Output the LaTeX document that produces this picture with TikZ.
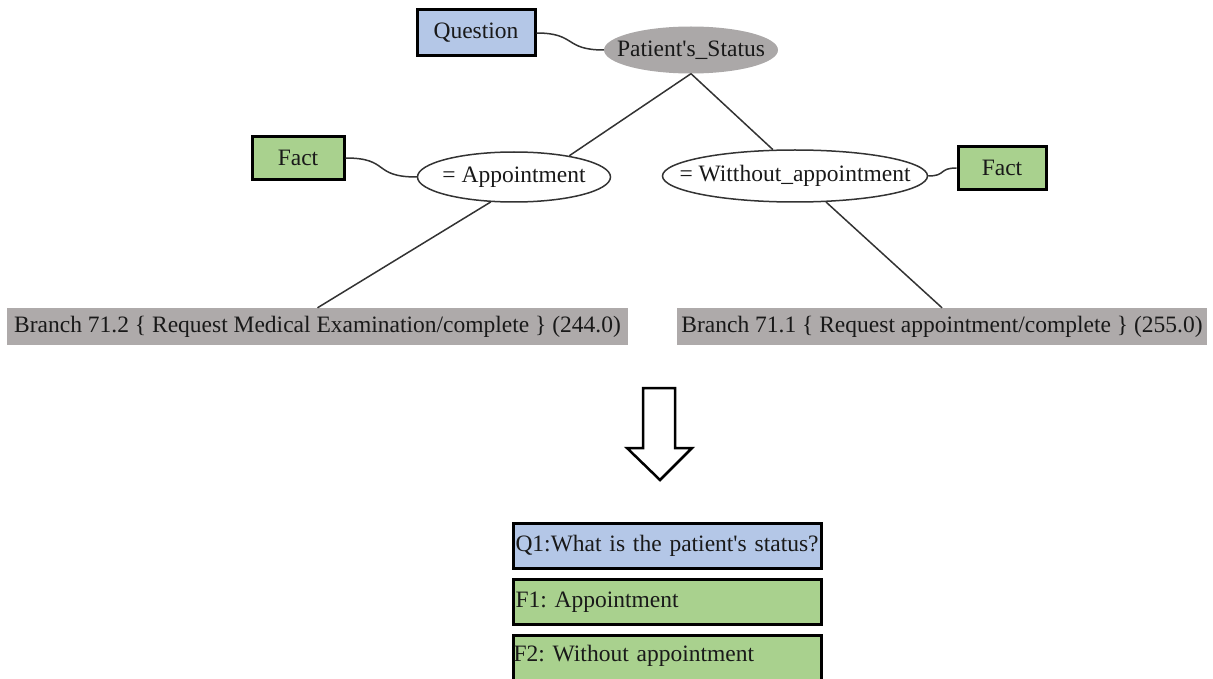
\documentclass[tikz,border=0pt]{standalone}
\usepackage{fontspec}
\setmainfont{Liberation Serif}
\usetikzlibrary{shapes.geometric}
\definecolor{qblue}{HTML}{B4C7E7}
\definecolor{fgreen}{HTML}{A9D18E}
\definecolor{ellgray}{HTML}{ABA8A8}
\definecolor{brgray}{HTML}{AEAAAA}
\newcommand{\ztext}[1]{\makebox[0pt]{#1}}
\begin{document}
\frenchspacing
\begin{tikzpicture}[x=1pt,y=-1pt,
  every node/.style={font=\fontsize{23.5}{28}\selectfont\frenchspacing, text=black!90},
  qbox/.style={draw=black, line width=3pt, fill=qblue, rectangle, inner sep=0pt},
  fbox/.style={draw=black, line width=3pt, fill=fgreen, rectangle, inner sep=0pt},
  grayell/.style={ellipse, fill=ellgray, inner sep=0pt},
  whiteell/.style={ellipse, draw=black!80, line width=1.5pt, fill=white, inner sep=0pt},
  branchbox/.style={rectangle, fill=brgray, inner sep=0pt},
  link/.style={draw=black!80, line width=1.5pt},
  listbox/.style={rectangle, draw=black, line width=3pt, inner xsep=2pt, inner ysep=0pt, align=left, text width=304pt, minimum height=45pt}
]
\useasboundingbox (0,0) rectangle (1213,679);
\clip (0,0) rectangle (1213,679);

% top tree
\node[qbox, minimum width=118pt, minimum height=46pt] (q) at (476,33) {Question};
\node[grayell, minimum width=174pt, minimum height=47pt] (ps) at (691,50) {\ztext{Patient\textquotesingle s\_Status}};
\node[whiteell, minimum width=193pt, minimum height=50pt] (appt) at (514,177) {\ztext{= Appointment}};
\node[whiteell, minimum width=265pt, minimum height=52pt] (wo) at (795,176) {\ztext{= Witthout\_appointment}};
\node[fbox, minimum width=92pt, minimum height=43pt] (fa) at (298,158) {Fact};
\node[fbox, minimum width=88pt, minimum height=43pt] (fb) at (1002,168) {Fact};
\node[branchbox, minimum width=621pt, minimum height=37pt] (b2) at (317.5,326.5) {Branch 71.2 \{ Request Medical Examination/complete \} (244.0)};
\node[branchbox, minimum width=530pt, minimum height=37pt] (b1) at (942,326.5) {Branch 71.1 \{ Request appointment/complete \} (255.0)};

\draw[link] (q.east) .. controls +(40,0) and +(-40,0) .. (ps.west);
\draw[link] (fa.east) .. controls +(45,0) and +(-45,0) .. (appt.west);
\draw[link] (wo.east) .. controls +(18,0) and +(-18,0) .. (fb.west);
\draw[link] (ps.south) -- (appt.21);
\draw[link] (ps.south) -- (wo.130);
\draw[link] (appt.227) -- (b2.north);
\draw[link] (wo.-40) -- (b1.north);

% hollow arrow
\draw[line width=2.5pt, fill=white, line join=miter]
  (643,388) -- (675,388) -- (675,448) -- (692,448) -- (660,480) -- (627,448) -- (643,448) -- cycle;

% list
\node[listbox, fill=qblue, anchor=north west] (l1) at (512,522) {Q1:What is the patient\textquotesingle s status?};
\node[listbox, fill=fgreen, anchor=north west] (l2) at (512,578) {F1: Appointment};
\node[listbox, fill=fgreen, anchor=north west, minimum height=60pt, inner xsep=0pt, text width=308pt, text depth=25pt] (l3) at (512,634) {F2: Without appointment};
\end{tikzpicture}
\end{document}
